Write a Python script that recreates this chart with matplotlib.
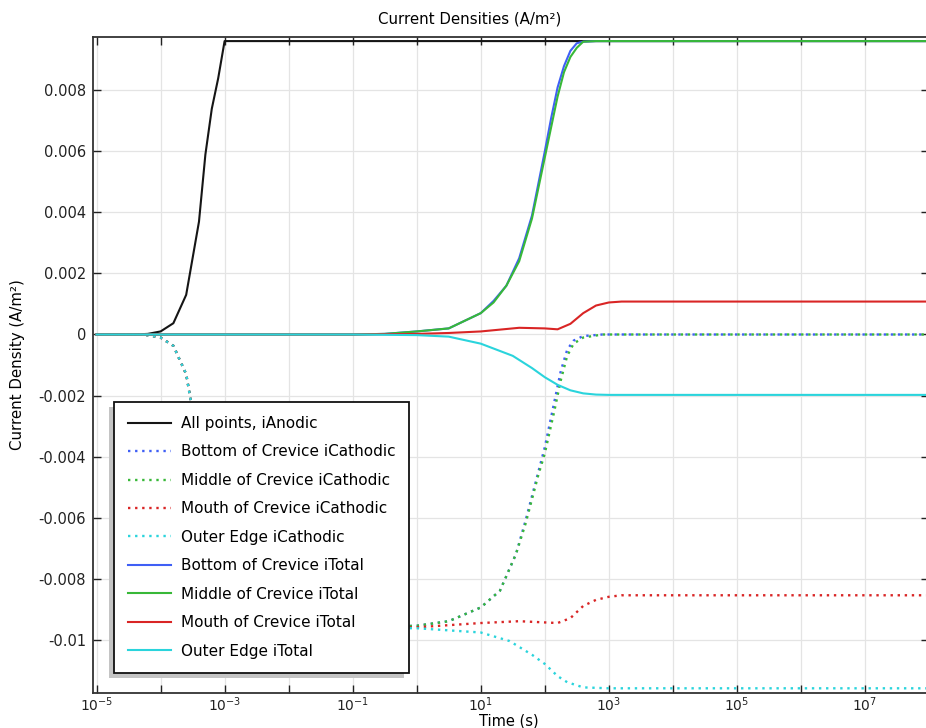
import numpy as np
import matplotlib
matplotlib.use('Agg')
import matplotlib.pyplot as plt
from matplotlib.ticker import NullLocator, FixedLocator, FuncFormatter
from matplotlib.patches import Rectangle
from matplotlib.transforms import IdentityTransform

# log10(time) knots and current densities (A/m^2)
anodic_logt = [-5, -4.4, -4.2, -4.0, -3.8, -3.6, -3.5, -3.4, -3.3, -3.2, -3.1, -3.0, 8]
anodic = [0, 0, 0.00002, 0.0001, 0.00037, 0.0013, 0.0025, 0.0037, 0.0059, 0.0074, 0.0084, 0.00962, 0.00962]

# cathodic curves share the early drop (hidden under the legend)
early_logt = [-5, -4.4, -4.2, -4.0, -3.8, -3.6, -3.5, -3.4, -3.3, -3.2, -3.1, -3.0, -1.0]
early_cath = [0, 0, -0.00002, -0.0001, -0.00037, -0.0013, -0.0025, -0.0037, -0.0059, -0.0074, -0.0084, -0.00962, -0.00962]

bottom_cath_logt = early_logt + [0, 0.5, 1.0, 1.3, 1.55, 1.7, 1.9, 2.0, 2.15, 2.25, 2.35, 2.45, 2.6, 2.9, 8]
bottom_cath = early_cath + [-0.00955, -0.0094, -0.00895, -0.0084, -0.0072, -0.0061, -0.0045, -0.0037, -0.0022, -0.0012, -0.0005, -0.0002, -0.00005, 0, 0]

middle_cath_logt = early_logt + [0, 0.5, 1.0, 1.3, 1.55, 1.7, 1.9, 2.0, 2.15, 2.25, 2.35, 2.45, 2.6, 2.9, 8]
middle_cath = early_cath + [-0.00955, -0.0094, -0.00895, -0.0084, -0.0072, -0.0062, -0.0046, -0.0039, -0.0025, -0.0015, -0.0007, -0.0003, -0.0001, 0, 0]

mouth_cath_logt = early_logt + [0, 1.0, 1.6, 2.0, 2.2, 2.4, 2.6, 2.8, 3.0, 3.2, 8]
mouth_cath = early_cath + [-0.0096, -0.00946, -0.0094, -0.00944, -0.00946, -0.0093, -0.0089, -0.0087, -0.0086, -0.00855, -0.00855]

outer_cath_logt = early_logt + [0, 1.0, 1.45, 1.8, 2.0, 2.2, 2.35, 2.6, 3.0, 8]
outer_cath = early_cath + [-0.00963, -0.00977, -0.01005, -0.0105, -0.0108, -0.0112, -0.0114, -0.01157, -0.0116, -0.0116]

bottom_tot_logt = [-5, -1, -0.5, 0, 0.5, 1.0, 1.2, 1.4, 1.6, 1.8, 2.0, 2.1, 2.2, 2.3, 2.4, 2.5, 2.6, 2.8, 8]
bottom_tot = [0, 0, 0.00002, 0.0001, 0.0002, 0.0007, 0.0011, 0.0016, 0.0025, 0.0039, 0.006, 0.0071, 0.0081, 0.0088, 0.0093, 0.00955, 0.0096, 0.00962, 0.00962]

middle_tot_logt = [-5, -1, -0.5, 0, 0.5, 1.0, 1.2, 1.4, 1.6, 1.8, 2.0, 2.1, 2.2, 2.3, 2.4, 2.5, 2.6, 2.8, 8]
middle_tot = [0, 0, 0.00002, 0.0001, 0.0002, 0.0007, 0.00105, 0.0016, 0.0024, 0.0038, 0.0058, 0.0068, 0.0078, 0.0086, 0.0091, 0.0094, 0.0096, 0.00962, 0.00962]

mouth_tot_logt = [-5, -1, 0, 0.5, 1.0, 1.6, 2.0, 2.2, 2.4, 2.6, 2.8, 3.0, 3.2, 8]
mouth_tot = [0, 0, 0.00002, 0.00005, 0.0001, 0.00022, 0.0002, 0.00017, 0.00035, 0.0007, 0.00095, 0.00105, 0.00108, 0.00108]

outer_tot_logt = [-5, -1, 0, 0.5, 1.0, 1.5, 1.8, 2.0, 2.2, 2.4, 2.6, 2.8, 3.0, 8]
outer_tot = [0, 0, -0.00002, -0.00007, -0.0003, -0.0007, -0.0011, -0.0014, -0.00165, -0.00183, -0.00193, -0.00197, -0.00198, -0.00198]

labels = ['All points, iAnodic',
          'Bottom of Crevice iCathodic', 'Middle of Crevice iCathodic',
          'Mouth of Crevice iCathodic', 'Outer Edge iCathodic',
          'Bottom of Crevice iTotal', 'Middle of Crevice iTotal',
          'Mouth of Crevice iTotal', 'Outer Edge iTotal']

c_black = '#151515'
c_blue = '#3f5ff5'
c_green = '#38b838'
c_red = '#d92525'
c_cyan = '#2ad4dc'

W, H = 926, 728
fig = plt.figure(figsize=(W / 100, H / 100), dpi=100)
ax = fig.add_axes([93 / W, 1 - 693 / H, 836 / W, (693 - 37) / H])

dot = (0, (1, 2))
series = [
    (anodic_logt, anodic, c_black, '-'),
    (bottom_cath_logt, bottom_cath, c_blue, dot),
    (middle_cath_logt, middle_cath, c_green, dot),
    (mouth_cath_logt, mouth_cath, c_red, dot),
    (outer_cath_logt, outer_cath, c_cyan, dot),
    (bottom_tot_logt, bottom_tot, c_blue, '-'),
    (middle_tot_logt, middle_tot, c_green, '-'),
    (mouth_tot_logt, mouth_tot, c_red, '-'),
    (outer_tot_logt, outer_tot, c_cyan, '-'),
]
for (lt, v, c, ls), lab in zip(series, labels):
    lw = 1.7 if ls == dot else 1.5
    ax.plot(10.0 ** np.array(lt), v, color=c, linestyle=ls, lw=lw, label=lab)

ax.set_xscale('log')
ax.set_xlim(10 ** -5.055, 1e8)
ax.set_ylim(-0.011754, 0.009754)

exps = list(range(-5, 8))
ax.xaxis.set_major_locator(FixedLocator([10.0 ** k for k in exps]))
ax.xaxis.set_minor_locator(NullLocator())
ax.set_xticklabels([f'$10^{{{k}}}$' if k % 2 else '' for k in exps])
yt = [-0.01, -0.008, -0.006, -0.004, -0.002, 0, 0.002, 0.004, 0.006, 0.008]
ax.yaxis.set_major_locator(FixedLocator(yt))
ax.yaxis.set_major_formatter(FuncFormatter(lambda v, p: '0' if abs(v) < 1e-12 else ('%g' % v)))

ax.tick_params(direction='in', length=6, width=1, top=True, right=True,
               labelsize=10.5, colors='#222222', pad=5)
ax.tick_params(axis='x', pad=2, labelsize=10)
ax.grid(True, color='#e4e4e4', lw=0.9)
ax.set_axisbelow(True)
for s in ax.spines.values():
    s.set_color('#333333')
    s.set_linewidth(1.3)

fig.text(470 / W, 1 - 19 / H, 'Current Densities (A/m²)', ha='center', va='center', fontsize=10.8)
fig.text(18 / W, 1 - 365 / H, 'Current Density (A/m²)', ha='center', va='center',
         rotation=90, fontsize=10.8)
fig.text(509 / W, 1 - 721 / H, 'Time (s)', ha='center', va='center', fontsize=10.5)

leg = ax.legend(loc='upper left', bbox_to_anchor=(114 / W, 1 - 402 / H),
                bbox_transform=fig.transFigure, borderaxespad=0, fontsize=11,
                handlelength=2.8, handletextpad=0.65, labelspacing=0.88,
                borderpad=0.92, fancybox=False, framealpha=1, edgecolor='#111111')
leg.get_frame().set_linewidth(1.3)
leg.set_zorder(10)

# shadow offset to the lower left, like the original export
fig.canvas.draw()
bb = leg.get_window_extent()
sh = Rectangle((bb.x0 - 5, bb.y0 - 5), bb.width, bb.height, transform=IdentityTransform(),
               facecolor='#c4c4c4', edgecolor='none', zorder=9)
ax.add_artist(sh)

fig.savefig('out.png', dpi=100)
